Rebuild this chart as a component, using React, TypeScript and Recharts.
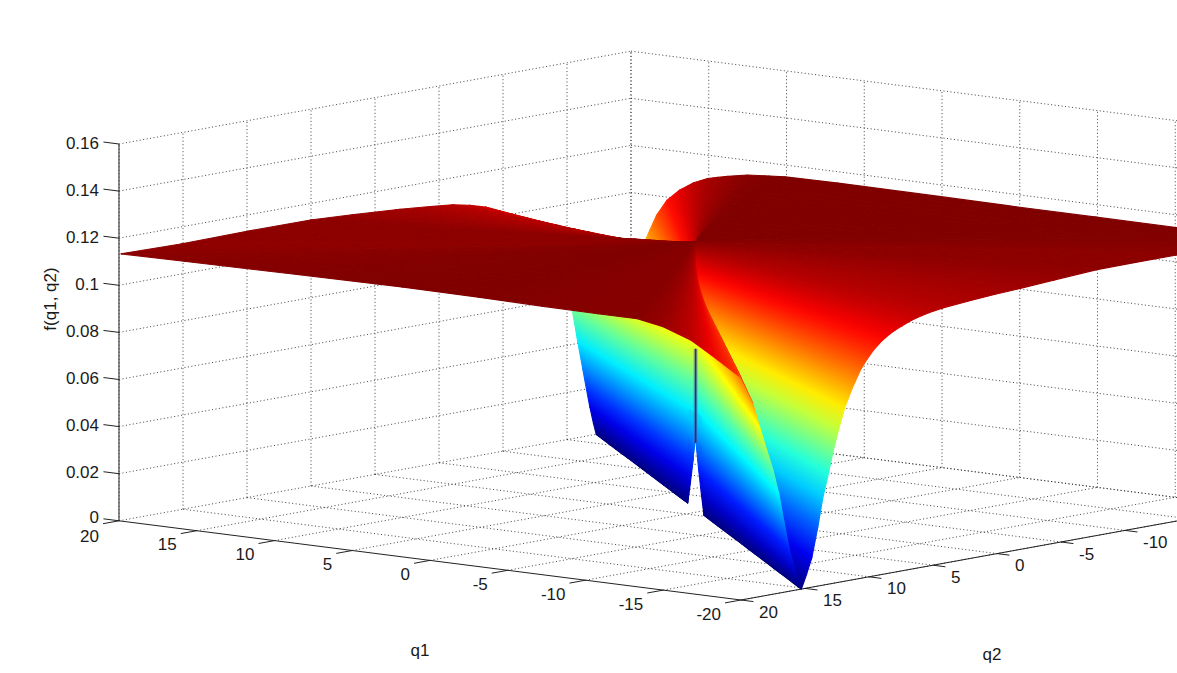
import { ComposedChart, Line, Scatter, XAxis, YAxis } from "recharts"

const WIDTH = 1177
const HEIGHT = 673

const q1Ticks = [20, 15, 10, 5, 0, -5, -10, -15, -20]
const q2Ticks = [20, 15, 10, 5, 0, -5, -10, -15, -20]
const zTicks = [0, 0.02, 0.04, 0.06, 0.08, 0.1, 0.12, 0.14, 0.16]
const q1Labels = ["20", "15", "10", "5", "0", "-5", "-10", "-15", "-20"]
const q2Labels = ["20", "15", "10", "5", "0", "-5", "-10"]
const zLabels = ["0", "0.02", "0.04", "0.06", "0.08", "0.1", "0.12", "0.14", "0.16"]

// the surface only depends on the direction around its centre point
const centre = [0.7, -1.6]
const angles = [
  0, 10, 19, 31, 41, 48, 55, 70, 87, 100, 110, 118, 123, 126, 129, 131, 133.8, 135, 135.8, 136.5, 137.3, 138, 138.6,
  139.3, 140, 140.8, 141.5, 142.2, 143, 143.7, 144.5, 145.2, 146, 146.9, 148, 149.3, 150.4, 151.4, 152.8, 154.3, 155.3,
  156.5, 157.7, 159.2, 161.5, 164.3, 170, 175, 180.6, 188, 196.7, 204, 211, 221.6, 229.4, 240, 255, 268, 288, 297, 299.5,
  302.7, 305.4, 306.7, 308, 309.7, 310.4, 311.3, 312.7, 313.8, 314.5, 315.5, 316.4, 317.5, 318.5, 319.5, 320.2, 320.9,
  321.3, 321.8, 322.3, 322.8, 323.6, 324.4, 325.5, 326.7, 328, 329.7, 331.5, 334, 337.2, 340, 343.3, 347, 352, 359,
]
const heights = [
  0.1108, 0.112, 0.113, 0.1131, 0.1128, 0.1132, 0.1137, 0.1142, 0.1146, 0.1144, 0.114, 0.1138, 0.1138, 0.1118, 0.1076,
  0.1025, 0.0943, 0.083, 0.0717, 0.0625, 0.0527, 0.042, 0.03, 0.0174, 0.008, 0, 0.006, 0.0127, 0.025, 0.0372, 0.047,
  0.0564, 0.065, 0.0737, 0.081, 0.0883, 0.0925, 0.0957, 0.099, 0.1016, 0.1028, 0.104, 0.1052, 0.1063, 0.1075, 0.1085,
  0.1095, 0.1102, 0.1108, 0.1118, 0.1129, 0.113, 0.113, 0.1142, 0.1146, 0.1147, 0.1148, 0.115, 0.1152, 0.115, 0.1145,
  0.1137, 0.1121, 0.1112, 0.1101, 0.1075, 0.1058, 0.1037, 0.0987, 0.0918, 0.0851, 0.075, 0.065, 0.051, 0.037, 0.02,
  0.009, 0, 0.005, 0.012, 0.02, 0.0283, 0.041, 0.0546, 0.064, 0.071, 0.078, 0.086, 0.0913, 0.097, 0.102, 0.105, 0.107,
  0.1085, 0.1095, 0.1107,
]
const rings = [0, 0.08, 0.12, 0.16, 0.21, 0.26, 0.32, 0.38, 0.44, 0.5, 0.56, 0.62, 0.68, 0.74, 0.8, 0.87, 0.93, 1]
const spikeHeights = [0.028, 0.068]

const COLOR_MAX = 0.1145
const CENTRE_TOP = 0.1135

// fixed camera of the figure: screen position of a (q1, q2, z) point
function project(q1: number, q2: number, z: number) {
  return {
    x: 686 - 15.55 * q1 - 12.8 * q2,
    y: 514 - 1.98 * q1 + 2.32 * q2 - 2355 * z,
  }
}

function jet(v: number) {
  const t = Math.min(1, Math.max(0, v / COLOR_MAX))
  const c = (d: number) => Math.round(255 * Math.min(1, Math.max(0, 1.5 - Math.abs(4 * t - d))))
  return `rgb(${c(3)},${c(2)},${c(1)})`
}

function rayEnd(deg: number) {
  const a = (deg * Math.PI) / 180
  const dx = Math.cos(a)
  const dy = Math.sin(a)
  const tx = dx > 0 ? (20 - centre[0]) / dx : dx < 0 ? (-20 - centre[0]) / dx : Infinity
  const ty = dy > 0 ? (20 - centre[1]) / dy : dy < 0 ? (-20 - centre[1]) / dy : Infinity
  const t = Math.min(tx, ty)
  return [dx * t, dy * t]
}

// the mesh leaves a narrow hole round the centre at the bottom of the valley
function innerRing(z: number) {
  return rings[1] * (1 - Math.min(z, 0.03) / 0.03)
}

function buildPatches() {
  const patches: any[] = []
  angles.forEach((deg, i) => {
    const j = (i + 1) % angles.length
    const za = heights[i]
    const zb = heights[j]
    const ea = rayEnd(deg)
    const eb = rayEnd(angles[j])
    for (let k = 0; k < rings.length - 1; k++) {
      const r1 = rings[k + 1]
      const r0a = k === 0 ? innerRing(za) : rings[k]
      const r0b = k === 0 ? innerRing(zb) : rings[k]
      const at = (e: number[], r: number, z: number) => project(centre[0] + e[0] * r, centre[1] + e[1] * r, z)
      const pts = [
        at(ea, r0a, k === 0 ? Math.min(za, CENTRE_TOP) : za),
        at(ea, r1, za),
        at(eb, r1, zb),
        at(eb, r0b, k === 0 ? Math.min(zb, CENTRE_TOP) : zb),
      ]
      const rm = (rings[k] + r1) / 2
      const m1 = centre[0] + ((ea[0] + eb[0]) / 2) * rm
      const m2 = centre[1] + ((ea[1] + eb[1]) / 2) * rm
      const mz = (za + zb) / 2
      const mid = project(m1, m2, mz)
      patches.push({
        x: mid.x,
        y: mid.y,
        pts,
        ca: jet(za),
        cb: jet(zb),
        depth: -m1 + 1.215 * m2 + 28.4 * mz,
      })
    }
  })
  return patches.sort((a, b) => a.depth - b.depth).map((p, id) => ({ ...p, id }))
}

function PatchShape(props: any) {
  const { cx, cy, payload: p } = props
  const dx = cx - p.x
  const dy = cy - p.y
  const pts = p.pts.map((o: any) => ({ x: o.x + dx, y: o.y + dy }))
  const ax = (pts[0].x + pts[1].x) / 2
  const ay = (pts[0].y + pts[1].y) / 2
  const bx = (pts[2].x + pts[3].x) / 2
  const by = (pts[2].y + pts[3].y) / 2
  let nx = -(pts[1].y - pts[0].y)
  let ny = pts[1].x - pts[0].x
  const len = Math.hypot(nx, ny) || 1
  nx /= len
  ny /= len
  const s = (bx - ax) * nx + (by - ay) * ny
  const gid = `patch${p.id}`
  const path = pts.map((o: any) => `${o.x.toFixed(2)},${o.y.toFixed(2)}`).join(" ")
  return (
    <g>
      <defs>
        <linearGradient
          id={gid}
          gradientUnits="userSpaceOnUse"
          x1={ax}
          y1={ay}
          x2={ax + nx * (Math.abs(s) < 0.01 ? 0.01 : s)}
          y2={ay + ny * (Math.abs(s) < 0.01 ? 0.01 : s)}
        >
          <stop offset="0" stopColor={p.ca} />
          <stop offset="1" stopColor={p.cb} />
        </linearGradient>
      </defs>
      <polygon points={path} fill={`url(#${gid})`} stroke={`url(#${gid})`} strokeWidth={1.1} strokeLinejoin="round" />
    </g>
  )
}

function LabelShape(props: any) {
  const { cx, cy, payload: p } = props
  return (
    <text
      x={cx}
      y={cy}
      textAnchor={p.anchor}
      dominantBaseline="central"
      fontFamily="Liberation Sans, Arial, sans-serif"
      fontSize={p.size}
      fill="#1a1a1a"
      transform={p.rotate ? `rotate(${p.rotate} ${cx} ${cy})` : undefined}
    >
      {p.text}
    </text>
  )
}

function buildGrid() {
  const lines: { x: number; y: number }[][] = []
  const seg = (a: number[], b: number[]) => {
    lines.push([project(a[0], a[1], a[2]), project(b[0], b[1], b[2])])
  }
  const top = zTicks[zTicks.length - 1]
  q2Ticks.forEach((q) => seg([20, q, 0], [20, q, top]))
  q1Ticks.forEach((q) => seg([q, -20, 0], [q, -20, top]))
  zTicks.forEach((z) => {
    seg([20, 20, z], [20, -20, z])
    seg([20, -20, z], [-20, -20, z])
  })
  q1Ticks.slice(1).forEach((q) => seg([q, 20, 0], [q, -20, 0]))
  q2Ticks.slice(1).forEach((q) => seg([20, q, 0], [-20, q, 0]))
  return lines
}

function buildAxes() {
  const lines: { x: number; y: number }[][] = []
  const seg = (a: number[], b: number[]) => {
    lines.push([project(a[0], a[1], a[2]), project(b[0], b[1], b[2])])
  }
  seg([20, 20, 0], [20, 20, 0.16])
  seg([20, 20, 0], [-20, 20, 0])
  seg([-20, 20, 0], [-20, -20, 0])
  zTicks.forEach((z) => seg([20, 20, z], [21, 20, z]))
  q1Ticks.forEach((q) => seg([q, 20, 0], [q, 21.25, 0]))
  q2Ticks.forEach((q) => seg([-20, q, 0], [-20.8, q, 0]))
  return lines
}

function buildLabels() {
  const labels: any[] = []
  zLabels.forEach((text, i) => {
    const p = project(20, 20, zTicks[i])
    labels.push({ x: p.x - 20, y: p.y - (i === 0 ? 3 : 1), text, anchor: "end", size: 17 })
  })
  q1Labels.forEach((text, i) => {
    const p = project(q1Ticks[i], 20, 0)
    labels.push({ x: p.x - 20, y: p.y + (i === 0 ? 16 : 14), text, anchor: "end", size: 17 })
  })
  q2Labels.forEach((text, i) => {
    const p = project(-20, q2Ticks[i], 0)
    labels.push({ x: p.x + 18, y: p.y + 12, text, anchor: "start", size: 17 })
  })
  labels.push({ x: 420, y: 650, text: "q1", anchor: "middle", size: 17 })
  labels.push({ x: 992, y: 654, text: "q2", anchor: "middle", size: 17 })
  labels.push({ x: 50, y: 299, text: "f(q1, q2)", anchor: "middle", size: 17, rotate: -90 })
  return labels
}

const patches = buildPatches()
const gridLines = buildGrid()
const axisLines = buildAxes()
const labels = buildLabels()
const spike = spikeHeights.map((z) => project(centre[0], centre[1], z))

export default function App() {
  return (
    <div style={{ position: "absolute", left: 0, top: 0, width: WIDTH, height: HEIGHT, background: "#fff" }}>
      <ComposedChart width={WIDTH} height={HEIGHT} margin={{ top: 0, right: 0, bottom: 0, left: 0 }}>
        <XAxis type="number" dataKey="x" domain={[0, WIDTH]} allowDataOverflow hide />
        <YAxis type="number" dataKey="y" domain={[0, HEIGHT]} allowDataOverflow reversed hide />
        {gridLines.map((pts, i) => (
          <Line
            key={`grid-${i}`}
            data={pts}
            dataKey="y"
            stroke="#333"
            strokeWidth={0.85}
            strokeDasharray="1.1 2.4"
            dot={false}
            legendType="none"
            isAnimationActive={false}
          />
        ))}
        {axisLines.map((pts, i) => (
          <Line
            key={`axis-${i}`}
            data={pts}
            dataKey="y"
            stroke="#222"
            strokeWidth={1}
            dot={false}
            legendType="none"
            isAnimationActive={false}
          />
        ))}
        <Scatter data={patches} dataKey="y" shape={<PatchShape />} isAnimationActive={false} />
        <Line
          data={spike}
          dataKey="y"
          stroke="#77709a"
          strokeOpacity={0.35}
          strokeWidth={4.5}
          dot={false}
          legendType="none"
          isAnimationActive={false}
          zIndex={700}
        />
        <Line
          data={spike}
          dataKey="y"
          stroke="#2b2b8c"
          strokeWidth={1.8}
          dot={false}
          legendType="none"
          isAnimationActive={false}
          zIndex={700}
        />
        <Scatter data={labels} dataKey="y" shape={<LabelShape />} isAnimationActive={false} />
      </ComposedChart>
    </div>
  )
}
